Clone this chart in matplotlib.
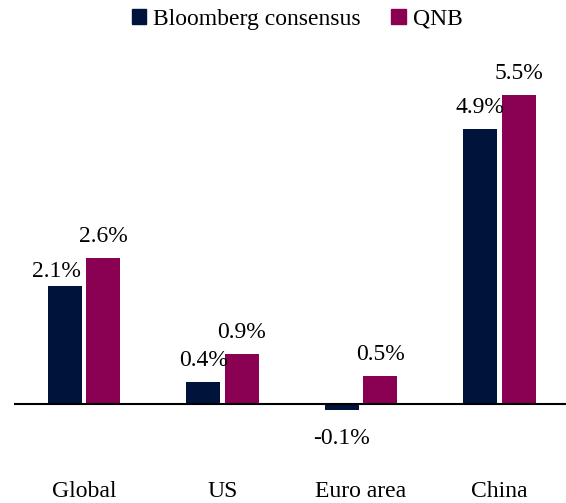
import numpy as np
import matplotlib
matplotlib.use("Agg")
import matplotlib.pyplot as plt
from matplotlib.patches import Patch

plt.rcParams['font.family'] = ['Liberation Serif', 'DejaVu Serif']

categories = ["Global", "US", "Euro area", "China"]
bloomberg = [2.1, 0.4, -0.1, 4.9]
qnb = [2.6, 0.9, 0.5, 5.5]
series_names = ["Bloomberg consensus", "QNB"]

navy = "#00133a"
maroon = "#8a0052"

fig = plt.figure(figsize=(5.66, 5.03), dpi=100)
ax = fig.add_axes([14 / 566, 1 - 470 / 503, 552 / 566, 431 / 503])

x = np.arange(len(categories))
w = 0.245
off = 0.14
b1 = ax.bar(x - off, bloomberg, w, color=navy)
b2 = ax.bar(x + off, qnb, w, color=maroon)

ax.axhline(0, color="black", lw=1.5)
ax.set_xlim(-0.505, 3.48)
ax.set_ylim(-1.17, 6.5)

for i, v in enumerate(bloomberg):
    if v >= 0:
        dx, dy = (-6, 3) if i == 0 else (0, 8)
        ax.annotate(f"{v:.1f}%", (x[i] - off, v), xytext=(dx, dy),
                    textcoords="offset points", ha="center", va="bottom", fontsize=17)
    else:
        ax.annotate(f"{v:.1f}%", (x[i] - off, v), xytext=(0, -13),
                    textcoords="offset points", ha="center", va="top", fontsize=17)
for i, v in enumerate(qnb):
    ax.annotate(f"{v:.1f}%", (x[i] + off, v), xytext=(0, 8),
                textcoords="offset points", ha="center", va="bottom", fontsize=17)

ax.set_xticks(x)
ax.set_xticklabels(categories, fontsize=17)
ax.tick_params(axis="x", length=0, pad=8)
ax.set_yticks([])
for s in ax.spines.values():
    s.set_visible(False)

handles = [Patch(color=navy), Patch(color=maroon)]
fig.legend(handles, series_names, loc="upper center", bbox_to_anchor=(0.525, 1.025),
           ncol=2, frameon=False, fontsize=17, handlelength=0.6, handleheight=0.6,
           handletextpad=0.3, columnspacing=1.3)

fig.savefig("out.png", dpi=100)
